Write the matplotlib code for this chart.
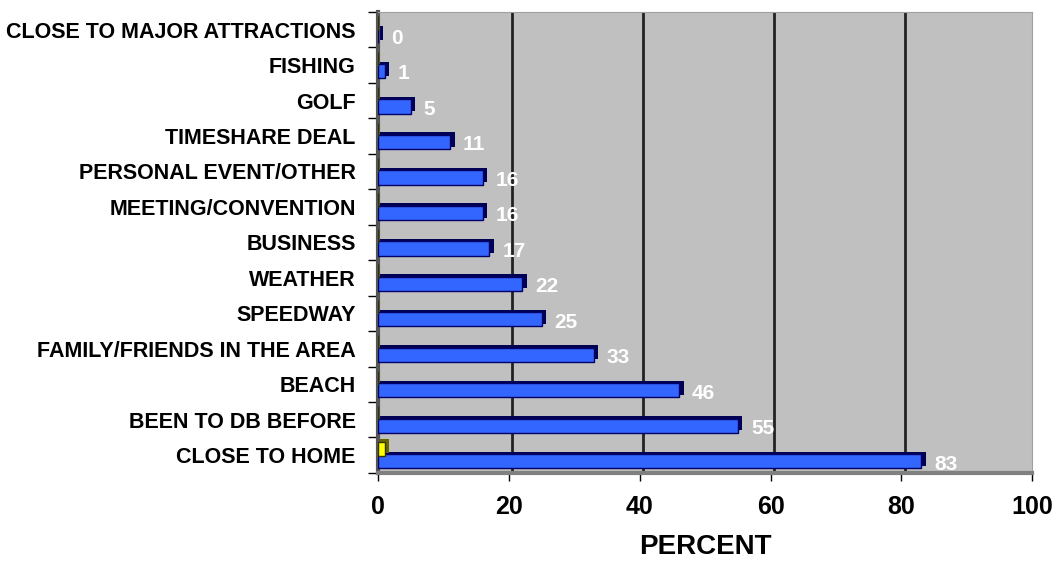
#recreate the "reasons for visiting" horizontal bar chart
import numpy as np
import matplotlib.pyplot as plt

plt.rcParams['font.family'] = ['Liberation Sans', 'DejaVu Sans']

#categories listed bottom to top
categories = ["CLOSE TO HOME", "BEEN TO DB BEFORE", "BEACH", "FAMILY/FRIENDS IN THE AREA",
              "SPEEDWAY", "WEATHER", "BUSINESS", "MEETING/CONVENTION",
              "PERSONAL EVENT/OTHER", "TIMESHARE DEAL", "GOLF", "FISHING",
              "CLOSE TO MAJOR ATTRACTIONS"]
percent = [83, 55, 46, 33, 25, 22, 17, 16, 16, 11, 5, 1, 0]
other_series = [1, 0, 0, 0, 0, 0, 0, 0, 0, 0, 0, 0, 0]  #the little yellow one
xticks = [0, 20, 40, 60, 80, 100]

fig = plt.figure(figsize=(10.57, 5.65), dpi=100)
ax = fig.add_axes([0.3576, 0.163, 0.619, 0.816])
ax.set_facecolor("#C0C0C0")

y = np.arange(len(categories))
h = 0.40

#fake 3d: dark shadow bar offset a bit, then the face on top
ax.barh(y - 0.17 + 0.07, np.array(percent) + 0.7, height=h, left=0,
        color="#000055", zorder=2)
ax.barh(y - 0.17, percent, height=h, color="#3366FF", edgecolor="#000066",
        linewidth=1, zorder=3)
yel = np.array(other_series)
ax.barh(y + 0.18 + 0.07, np.where(yel > 0, yel + 0.7, 0), height=h,
        color="#666600", zorder=2)
ax.barh(y + 0.18, yel, height=h, color="#FFFF00", edgecolor="#333300",
        linewidth=1, zorder=3)

for yy, v in zip(y, percent):
    ax.text(v + 2, yy - 0.25, str(v), color="white", fontweight="bold",
            fontsize=15, va="center", ha="left", zorder=4)

#gridlines at the majors (not at 0 and 100)
for gx in xticks[1:-1]:
    ax.axvline(gx + 0.5, color="#222222", linewidth=2, zorder=1)

ax.set_xlim(0, 100)
ax.set_ylim(-0.5, len(categories) - 0.5)
ax.set_xticks(xticks)
ax.set_xticklabels([str(t) for t in xticks], fontsize=18, fontweight="bold")
ax.set_yticks(y)
ax.set_yticklabels(categories, fontsize=15.5, fontweight="bold")
ax.set_yticks(np.arange(len(categories) + 1) - 0.5, minor=True)
ax.tick_params(axis="y", which="major", length=0, pad=16)
ax.tick_params(axis="y", which="minor", length=7, width=1, color="black")
ax.tick_params(axis="x", length=6, width=1, pad=10)
ax.set_xlabel("PERCENT", fontsize=20, fontweight="bold", labelpad=11)

for s in ["top", "right"]:
    ax.spines[s].set_color("#A0A0A0")
ax.spines["left"].set_color("#555555")
ax.spines["left"].set_linewidth(3)
ax.spines["bottom"].set_color("#808080")
ax.spines["bottom"].set_linewidth(3)

plt.savefig("out.png", dpi=100)
